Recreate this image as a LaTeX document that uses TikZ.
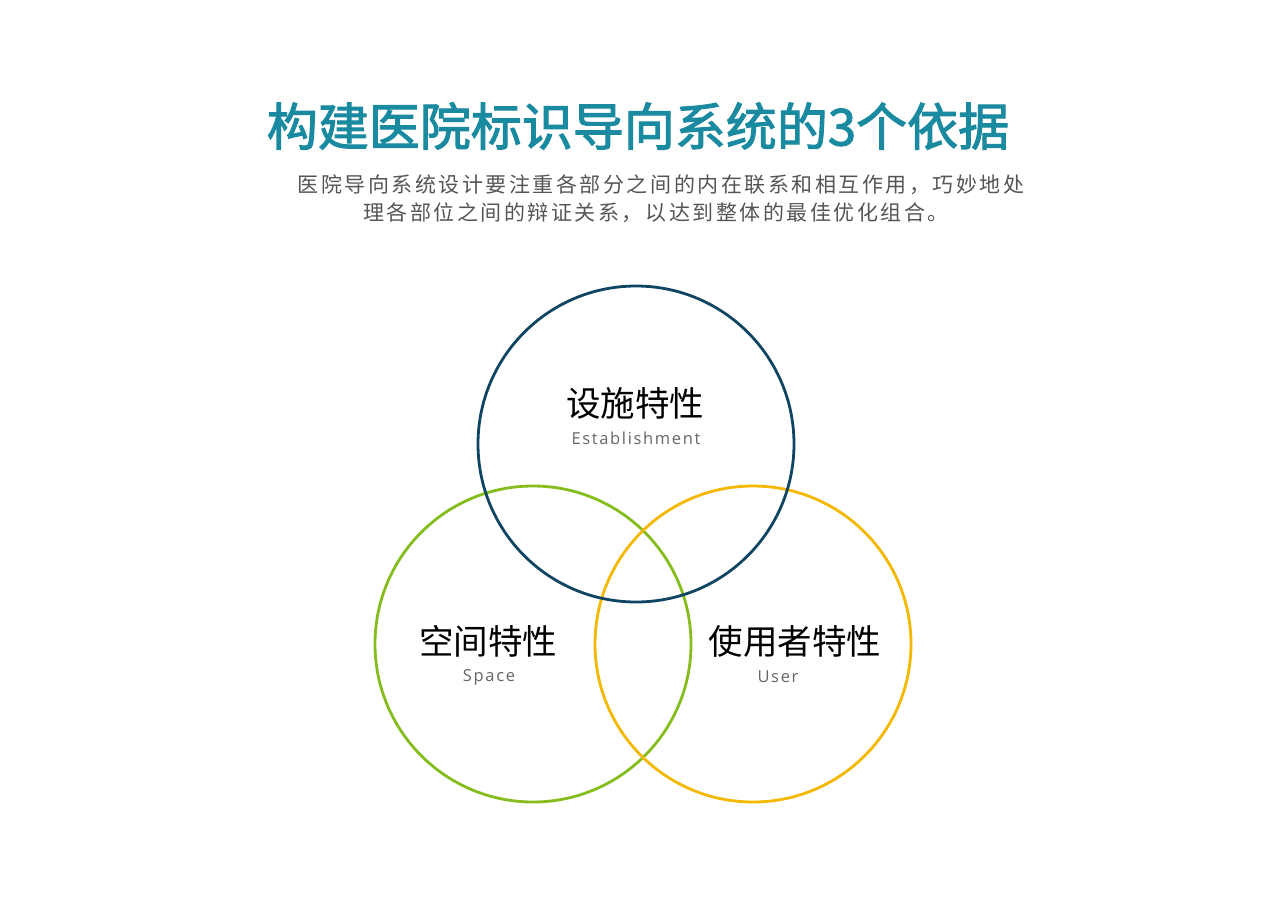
\documentclass[tikz,border=0pt]{standalone}
\usepackage{fontspec}
\setmainfont{Open Sans}
\newfontfamily\cjk{Noto Sans CJK SC}
\newfontfamily\cjkb{Noto Sans CJK SC}[FakeBold=2]
\newfontfamily\cjksp{Noto Sans CJK SC}[LetterSpace=12]
\newfontfamily\latsp{Open Sans}[LetterSpace=10]
\definecolor{ttl}{HTML}{1A8AA0}
\definecolor{sub}{HTML}{555555}
\definecolor{cblue}{HTML}{0F4462}
\definecolor{cgreen}{HTML}{84BD1C}
\definecolor{cyellow}{HTML}{F5B800}
\definecolor{lbl}{HTML}{666666}
\tikzset{
  ring/.style={draw=#1, line width=2.8pt},
  cn/.style={font=\cjk\fontsize{34.5}{36}\selectfont, text=black, anchor=center, inner sep=0pt},
  en/.style={font=\latsp\fontsize{16.5}{18}\selectfont, text=lbl, anchor=center, inner sep=0pt},
  subt/.style={font=\cjksp\fontsize{21}{24}\selectfont, text=sub, anchor=center, inner sep=0pt}
}
\begin{document}
\begin{tikzpicture}[x=1pt,y=-1pt]
\useasboundingbox (0,0) rectangle (1280,906);
\fill[white] (0,0) rectangle (1280,906);
\node[font=\cjkb\fontsize{51}{56}\selectfont, text=ttl, inner sep=0pt] (title) at (638,126) {构建医院标识导向系统的3个依据};
\node[subt] (sub1) at (661,185) {医院导向系统设计要注重各部分之间的内在联系和相互作用，巧妙地处};
\node[subt] (sub2) at (656,213) {理各部位之间的辩证关系，以达到整体的最佳优化组合。};
\node[ring=cgreen, circle, minimum size=316pt, inner sep=0pt] (cg) at (533,644) {};
\node[ring=cyellow, circle, minimum size=316pt, inner sep=0pt] (cy) at (753,644) {};
\node[ring=cblue, circle, minimum size=316pt, inner sep=0pt] (cb) at (636,444) {};
\node[cn] (t1) at (635,403) {设施特性};
\node[en] (e1) at (636,438) {Establishment};
\node[cn] (t2) at (488,641) {空间特性};
\node[en] (e2) at (489,677) {Space};
\node[cn] (t3) at (795,641) {使用者特性};
\node[en] (e3) at (778,677) {User};
\end{tikzpicture}
\end{document}
